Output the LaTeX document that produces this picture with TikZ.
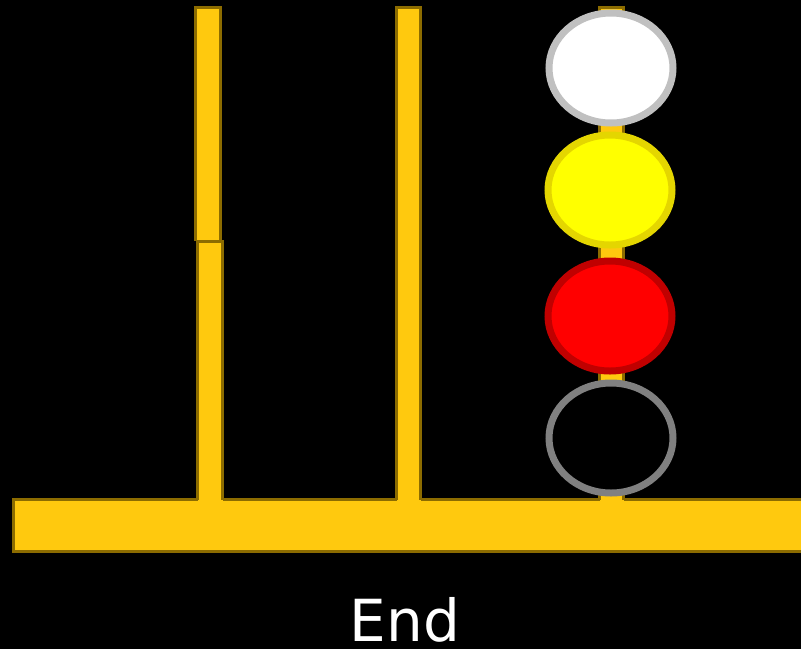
\documentclass[tikz,border=0pt]{standalone}
\usepackage{fontspec}
\setmainfont{DejaVu Sans}
\usetikzlibrary{shapes.geometric}
\definecolor{gold}{RGB}{255,201,14}
\definecolor{golddark}{RGB}{140,108,0}
\definecolor{ringwhite}{RGB}{192,192,192}
\definecolor{fillyellow}{RGB}{255,255,0}
\definecolor{ringyellow}{RGB}{228,214,0}
\definecolor{ringred}{RGB}{192,0,0}
\definecolor{ringgray}{RGB}{128,128,128}
\begin{document}
\begin{tikzpicture}[x=1pt,y=-1pt,
  rodfill/.style={fill=gold},
  rodedge/.style={draw=golddark,line width=3pt},
  disc/.style={ellipse,minimum width=124pt,minimum height=110pt,line width=7pt,inner sep=0pt}]
\useasboundingbox[fill=black] (0,0) rectangle (801,649);
% base
\fill[rodfill] (13.5,499.5) rectangle (805,551.5);
\draw[rodedge] (13.5,499.5) rectangle (805,551.5);
% rods
\fill[rodfill] (195.5,7.5) rectangle (220.5,241);
\draw[rodedge] (195.5,241) -- (195.5,7.5) -- (220.5,7.5) -- (220.5,241);
\fill[rodfill] (197.5,241) rectangle (222.5,504);
\draw[rodedge] (197.5,499.5) -- (197.5,241) -- (222.5,241) -- (222.5,499.5);
\fill[rodfill] (396.5,7.5) rectangle (420.5,504);
\draw[rodedge] (396.5,499.5) -- (396.5,7.5) -- (420.5,7.5) -- (420.5,499.5);
\fill[rodfill] (599.5,7.5) rectangle (623.5,504);
\draw[rodedge] (599.5,499.5) -- (599.5,7.5) -- (623.5,7.5) -- (623.5,499.5);
% discs
\node[disc,draw=ringwhite,fill=white] (d1) at (611,68) {};
\node[disc,draw=ringyellow,fill=fillyellow] (d2) at (610,190) {};
\node[disc,draw=ringred,fill=red] (d3) at (610,316) {};
\node[disc,draw=ringgray,fill=black] (d4) at (611,438) {};
\node[text=white,font=\fontsize{58}{58}\selectfont,anchor=base,inner sep=0pt] (lbl) at (405,641) {End};
\end{tikzpicture}
\end{document}
